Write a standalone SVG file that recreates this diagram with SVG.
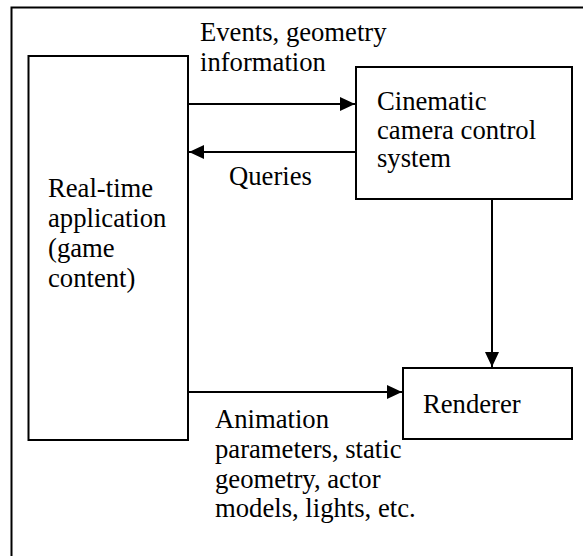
<svg xmlns="http://www.w3.org/2000/svg" width="583" height="556" viewBox="0 0 583 556">
  <defs>
    <style>
      .box { fill: #fff; stroke: #000; stroke-width: 2; }
      .frame { fill: none; stroke: #000; stroke-width: 2; }
      .link { fill: none; stroke: #000; stroke-width: 2; }
      .label { font-family: "Liberation Serif", "Times New Roman", serif; font-size: 26.67px; fill: #000; }
    </style>
    <marker id="arrow" viewBox="0 0 15 14" refX="15" refY="7" markerWidth="15" markerHeight="14" markerUnits="userSpaceOnUse" orient="auto">
      <path d="M0,0 L15,7 L0,14 Z" fill="#000"/>
    </marker>
  </defs>

  <rect width="583" height="556" fill="#fff"/>

  <!-- outer frame: only its top and left edges fall inside the page -->
  <path class="frame" d="M11.5,556 V7.5 H583"/>

  <g id="realtime-app">
    <rect class="box" x="28.5" y="56" width="159.5" height="384"/>
    <text class="label" x="48" y="197">Real-time</text>
    <text class="label" x="48" y="227">application</text>
    <text class="label" x="48" y="257">(game</text>
    <text class="label" x="48" y="287">content)</text>
  </g>

  <g id="camera-system">
    <rect class="box" x="356" y="67" width="216" height="132"/>
    <text class="label" x="377" y="110">Cinematic</text>
    <text class="label" x="377" y="138.5">camera control</text>
    <text class="label" x="377" y="167">system</text>
  </g>

  <g id="renderer">
    <rect class="box" x="403" y="368" width="169" height="71"/>
    <text class="label" x="423" y="413">Renderer</text>
  </g>

  <g id="connectors">
    <line class="link" x1="188" y1="104" x2="355" y2="104" marker-end="url(#arrow)"/>
    <line class="link" x1="356" y1="152" x2="189" y2="152" marker-end="url(#arrow)"/>
    <line class="link" x1="492" y1="199" x2="492" y2="367" marker-end="url(#arrow)"/>
    <line class="link" x1="188" y1="392" x2="402" y2="392" marker-end="url(#arrow)"/>
  </g>

  <g id="connector-labels">
    <text class="label" x="200" y="41">Events, geometry</text>
    <text class="label" x="200" y="71">information</text>
    <text class="label" x="229" y="185">Queries</text>
    <text class="label" x="215" y="428">Animation</text>
    <text class="label" x="215" y="458">parameters, static</text>
    <text class="label" x="215" y="488">geometry, actor</text>
    <text class="label" x="215" y="517">models, lights, etc.</text>
  </g>
</svg>
